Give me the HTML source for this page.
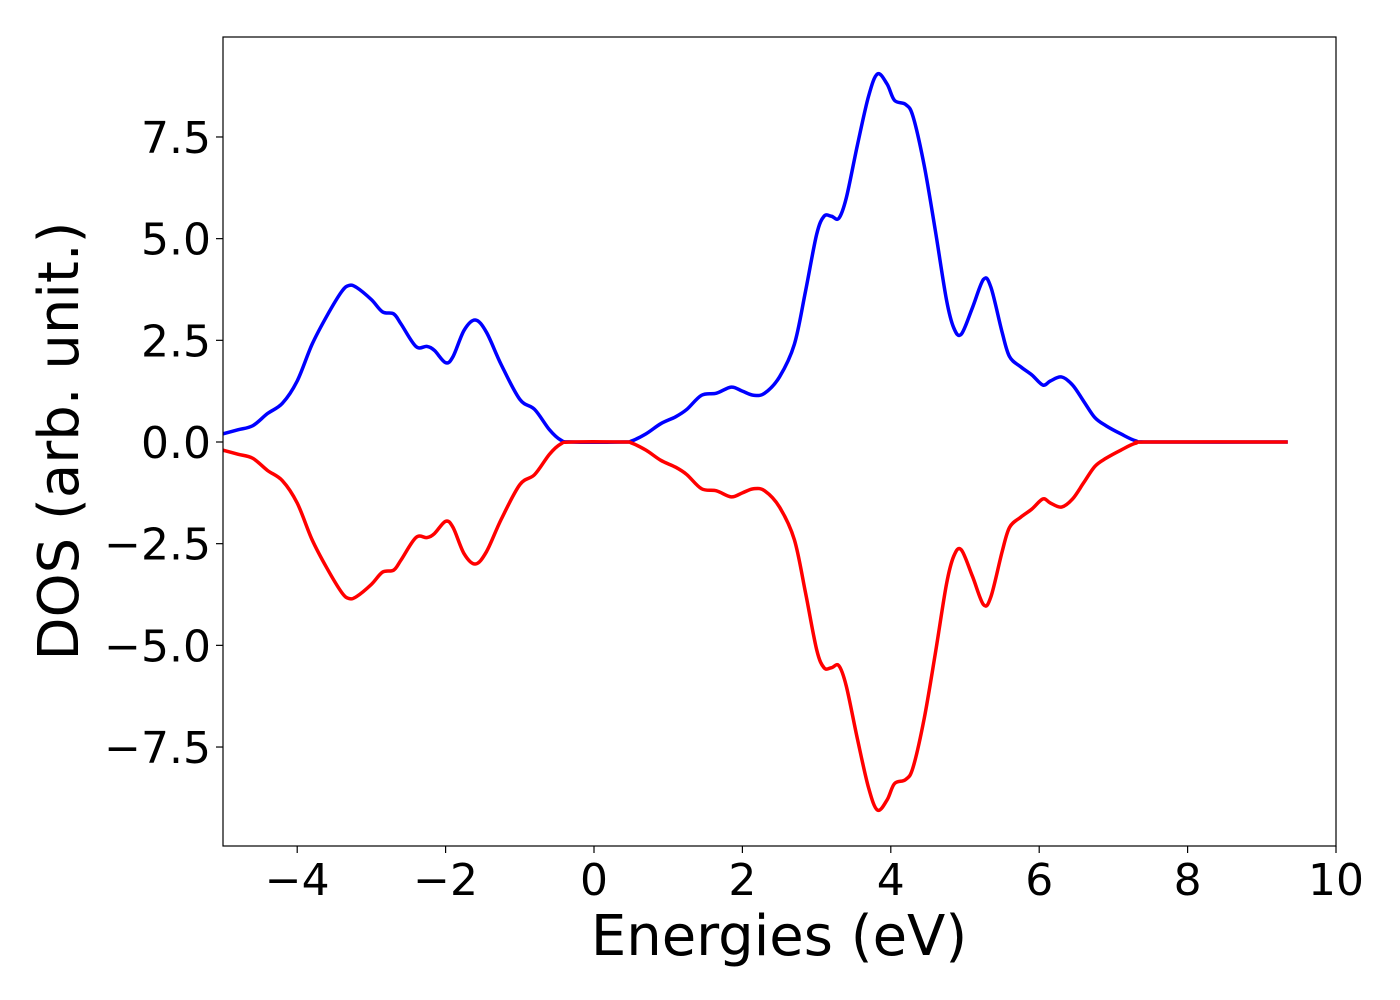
<!DOCTYPE html>
<html><head><meta charset="utf-8"><style>
html,body{margin:0;padding:0;background:#fff;}
svg{display:block;font-family:"DejaVu Sans","Liberation Sans",sans-serif;}
</style></head><body>
<svg id="chart" width="1400" height="1000" xmlns="http://www.w3.org/2000/svg">
<g id="axes"></g>
<g id="series"></g>
<rect x="223" y="37" width="1113" height="809" fill="none" stroke="#000" stroke-width="1.2"/>
<text x="779" y="955" font-size="56" text-anchor="middle">Energies (eV)</text>
<text transform="translate(78,441) rotate(-90)" font-size="56" text-anchor="middle">DOS (arb. unit.)</text>
</svg>
<script>
const energies=[-5,-4.8,-4.6,-4.4,-4.2,-4.0,-3.8,-3.6,-3.4,-3.3,-3.2,-3.0,-2.85,-2.7,-2.6,-2.4,-2.25,-2.15,-2.0,-1.9,-1.75,-1.6,-1.45,-1.25,-1.0,-0.8,-0.6,-0.45,-0.3,0.4,0.5,0.7,0.9,1.1,1.25,1.45,1.65,1.85,2.0,2.15,2.3,2.5,2.7,2.85,3.0,3.1,3.2,3.3,3.4,3.55,3.7,3.82,3.95,4.05,4.2,4.3,4.45,4.6,4.75,4.85,4.95,5.1,5.25,5.35,5.5,5.6,5.75,5.9,6.05,6.15,6.3,6.45,6.6,6.75,6.9,7.1,7.3,7.5,9.35];
const dosUp=[0.2,0.3,0.4,0.7,0.95,1.5,2.4,3.1,3.7,3.85,3.8,3.5,3.2,3.15,2.9,2.35,2.35,2.25,1.95,2.1,2.75,3.0,2.7,1.9,1.05,0.8,0.3,0.05,0,0,0.02,0.2,0.45,0.62,0.8,1.15,1.2,1.35,1.25,1.15,1.2,1.6,2.4,3.7,5.1,5.55,5.55,5.5,6.0,7.3,8.5,9.05,8.8,8.4,8.3,8.0,6.8,5.2,3.5,2.8,2.65,3.3,4.0,3.8,2.7,2.1,1.85,1.65,1.4,1.5,1.6,1.4,1.0,0.6,0.4,0.2,0.03,0,0];
const dosDown=dosUp.map(v=>-v);
const xTicks=[-4,-2,0,2,4,6,8,10];
const yTicks=[-7.5,-5.0,-2.5,0.0,2.5,5.0,7.5];
const X=v=>594+(v)*74.2;
const Y=v=>442-v*40.67;
const NS="http://www.w3.org/2000/svg";
const axes=document.getElementById('axes');
function mk(t,a){const e=document.createElementNS(NS,t);for(const k in a)e.setAttribute(k,a[k]);return e;}
xTicks.forEach(t=>{
 const l=mk('line',{x1:X(t),x2:X(t),y1:846,y2:853,stroke:'#000','stroke-width':1.2});
 
 
 axes.appendChild(l);
 const tx=mk('text',{x:X(t),y:895,'font-size':44,'text-anchor':'middle'});
 
 
 tx.textContent=(t<0?'\u2212'+(-t):String(t));
 axes.appendChild(tx);
});
yTicks.forEach(t=>{
 const l=mk('line',{x1:216,x2:223,y1:Y(t),y2:Y(t),stroke:'#000','stroke-width':1.2});
 
 
 axes.appendChild(l);
 const tx=mk('text',{x:211,y:Y(t)+16,'font-size':44,'text-anchor':'end'});
 
 
 tx.textContent=(t<0?'\u2212'+(-t).toFixed(1):t.toFixed(1));
 axes.appendChild(tx);
});
function pathD(xs,ys){
 const p=xs.map((x,i)=>[X(x),Y(ys[i])]);
 let d='M'+p[0][0]+','+p[0][1];
 for(let i=0;i<p.length-1;i++){
  const p0=p[Math.max(0,i-1)],p1=p[i],p2=p[i+1],p3=p[Math.min(p.length-1,i+2)];
  const c1=[p1[0]+(p2[0]-p0[0])/6,p1[1]+(p2[1]-p0[1])/6];
  const c2=[p2[0]-(p3[0]-p1[0])/6,p2[1]-(p3[1]-p1[1])/6];
  d+=' C'+c1[0]+','+c1[1]+' '+c2[0]+','+c2[1]+' '+p2[0]+','+p2[1];
 }
 return d;
}
const series=document.getElementById('series');
const up=mk('path',{d:pathD(energies,dosUp),fill:'none',stroke:'#0000ff','stroke-width':3.5,'stroke-linejoin':'round'});


series.appendChild(up);
const dn=mk('path',{d:pathD(energies,dosDown),fill:'none',stroke:'#ff0000','stroke-width':3.5,'stroke-linejoin':'round'});


series.appendChild(dn);
</script>
</body></html>
